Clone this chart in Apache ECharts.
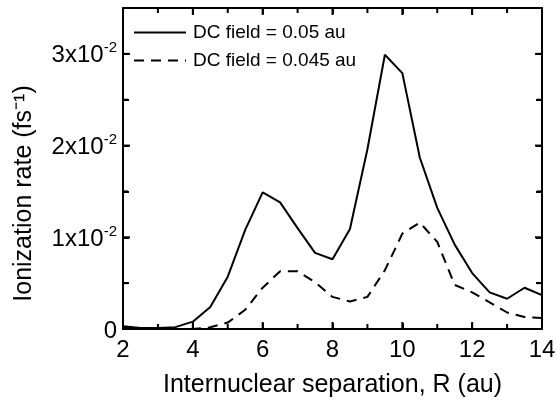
<!DOCTYPE html>
<html>
<head>
<meta charset="utf-8">
<script src="https://cdn.jsdelivr.net/npm/echarts@6/dist/echarts.min.js"></script>
<style>
  html, body { margin: 0; padding: 0; background: #fff; }
  #chart { width: 557px; height: 404px; }
</style>
</head>
<body>
<div id="chart"></div>
<script>
// 核间距 R (au)
const rValues = [2, 2.5, 3, 3.5, 4, 4.5, 5, 5.5, 6, 6.5, 7, 7.5, 8, 8.5, 9, 9.5, 10, 10.5, 11, 11.5, 12, 12.5, 13, 13.5, 14];
// DC field = 0.05 au
const rate005 = [0.0003, 0.0001, 0.0001, 0.0002, 0.0008, 0.0024, 0.0057, 0.0108, 0.0149, 0.0138, 0.0110, 0.0083, 0.0076, 0.0109, 0.0196, 0.0299, 0.0279, 0.0187, 0.0132, 0.0092, 0.0061, 0.0040, 0.0033, 0.0045, 0.0037];
// DC field = 0.045 au
const rate0045 = [0.0002, 0.0001, 0.0000, 0.0000, 0.0000, 0.0002, 0.0007, 0.0021, 0.0045, 0.0063, 0.0063, 0.0051, 0.0035, 0.0030, 0.0035, 0.0064, 0.0104, 0.0116, 0.0095, 0.0048, 0.0040, 0.0029, 0.0018, 0.0013, 0.0012];
const seriesNames = ['DC field = 0.05 au', 'DC field = 0.045 au'];
// y 轴刻度标签 (x10^-2)
const yTickLabels = ['0', '1x10', '2x10', '3x10'];
// 刻度位置（主刻度 + 次刻度）
const xTickValues = [2, 3, 4, 5, 6, 7, 8, 9, 10, 11, 12, 13, 14];
const yTickValues = [0, 0.005, 0.01, 0.015, 0.02, 0.025, 0.03];

const X_MIN = 2, X_MAX = 14, Y_MIN = 0, Y_MAX = 0.035;
const font = 'Liberation Sans, Arial, sans-serif';
const chart = echarts.init(document.getElementById('chart'), null, {renderer: 'canvas'});

const toPairs = (vals) => vals.map((v, i) => [rValues[i], v]);
const axisLineStyle = () => ({show: true, onZero: false, lineStyle: {color: '#000', width: 2}});
const tickStyle = () => ({show: true, inside: true, length: 6, lineStyle: {color: '#000', width: 2}});
const tickLine = (x1, y1, x2, y2) => ({
  type: 'line',
  shape: {x1, y1, x2, y2},
  style: {stroke: '#000', lineWidth: 2}
});

// 四边向内的刻度，用坐标轴换算位置
function renderXTick(params, api) {
  const v = api.value(0);
  const len = Math.round(v) % 2 === 0 ? 7 : 5;
  const b = api.coord([v, Y_MIN]);
  const t = api.coord([v, Y_MAX]);
  return {type: 'group', children: [tickLine(b[0], b[1], b[0], b[1] - len), tickLine(t[0], t[1], t[0], t[1] + len)]};
}
function renderYTick(params, api) {
  const v = api.value(1);
  const len = Math.round(v * 200) % 2 === 0 ? 7 : 5;
  const l = api.coord([X_MIN, v]);
  const r = api.coord([X_MAX, v]);
  return {type: 'group', children: [tickLine(l[0], l[1], l[0] + len, l[1]), tickLine(r[0], r[1], r[0] - len, r[1])]};
}

const option = {
  backgroundColor: '#fff',
  animation: false,
  grid: {left: 123, right: 15, top: 8, bottom: 75, outerBoundsMode: 'none'},
  legend: {
    orient: 'vertical',
    left: 128,
    top: 18,
    itemWidth: 52,
    itemHeight: 14,
    itemGap: 9,
    itemStyle: {opacity: 0},
    textStyle: {color: '#000', fontSize: 19, lineHeight: 19, fontFamily: font, padding: [0, 0, 0, 2]},
    data: seriesNames
  },
  xAxis: [
    {
      type: 'value', min: X_MIN, max: X_MAX, interval: 2,
      name: 'Internuclear separation, R (au)',
      nameLocation: 'middle', nameGap: 44,
      nameTextStyle: {color: '#000', fontSize: 25, fontFamily: font},
      axisLine: axisLineStyle(),
      axisTick: tickStyle(),
      splitLine: {show: false},
      axisLabel: {color: '#000', fontSize: 24, fontFamily: font, margin: 9}
    },
    {
      type: 'value', min: X_MIN, max: X_MAX, interval: 2, position: 'top',
      axisLine: axisLineStyle(),
      axisTick: tickStyle(),
      splitLine: {show: false},
      axisLabel: {show: false}
    }
  ],
  yAxis: [
    {
      type: 'value', min: Y_MIN, max: Y_MAX, interval: 0.005,
      name: 'Ionization rate (fs\u207B\u00B9)',
      nameLocation: 'middle', nameGap: 86,
      nameTextStyle: {color: '#000', fontSize: 25, fontFamily: font, padding: [0, 50, 0, 0]},
      axisLine: axisLineStyle(),
      axisTick: tickStyle(),
      splitLine: {show: false},
      axisLabel: {
        margin: 6,
        showMaxLabel: false,
        formatter: (v) => {
          const k = Math.round(v * 200);
          if (k % 2 !== 0) return '';
          const label = yTickLabels[k / 2];
          if (label === undefined) return '';
          if (k === 0) return '{a|0}';
          return '{a|' + label + '}{s|-2}';
        },
        rich: {
          a: {fontSize: 24, fontFamily: font, color: '#000', padding: [4, 0, 0, 0]},
          s: {fontSize: 15, fontFamily: font, color: '#000', verticalAlign: 'bottom', padding: [0, 0, 12, 0]}
        }
      }
    },
    {
      type: 'value', min: Y_MIN, max: Y_MAX, interval: 0.005, position: 'right',
      axisLine: axisLineStyle(),
      axisTick: tickStyle(),
      splitLine: {show: false},
      axisLabel: {show: false}
    }
  ],
  series: [
    {
      name: seriesNames[0],
      type: 'line',
      symbol: 'none',
      lineStyle: {color: '#000', width: 2, type: 'solid'},
      itemStyle: {color: '#000'},
      data: toPairs(rate005)
    },
    {
      name: seriesNames[1],
      type: 'line',
      symbol: 'none',
      lineStyle: {color: '#000', width: 2, type: [10, 7]},
      itemStyle: {color: '#000'},
      data: toPairs(rate0045)
    },
    {
      type: 'custom', silent: true, clip: false,
      renderItem: renderXTick,
      data: xTickValues.map(v => [v, Y_MIN])
    },
    {
      type: 'custom', silent: true, clip: false,
      renderItem: renderYTick,
      data: yTickValues.map(v => [X_MIN, v])
    }
  ]
};

chart.setOption(option);
</script>
</body>
</html>
